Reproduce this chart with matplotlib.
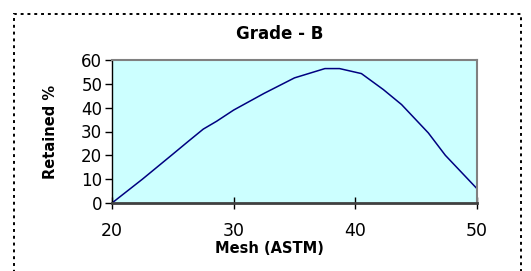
import matplotlib
matplotlib.use("Agg")
import matplotlib.pyplot as plt
from matplotlib.patches import Rectangle

# ===== data =====
mesh = [20, 22.5, 25, 26.3, 27.5, 28.6, 30, 32.5, 35, 37.5, 38.7, 40.5, 42.3, 43.8, 46, 47.4, 50]
retained = [0, 10, 20.5, 26, 31, 34.3, 39, 46, 52.5, 56.4, 56.4, 54.3, 47.6, 41.3, 29.4, 20, 6]
x_ticks = [20, 30, 40, 50]
y_ticks = [0, 10, 20, 30, 40, 50, 60]

plt.rcParams['font.family'] = ['DejaVu Sans']

fig = plt.figure(figsize=(5.31, 2.71), dpi=100)
ax = fig.add_axes([112/531, 68/271, 365/531, 143/271])
ax.set_facecolor("#CCFFFF")

ax.plot(mesh, retained, color="#000080", linewidth=1.1)

ax.set_xlim(20, 50)
ax.set_ylim(0, 60)
ax.set_xticks(x_ticks)
ax.set_yticks(y_ticks)

# axes look
for side in ["top", "right"]:
    ax.spines[side].set_color("#808080")
    ax.spines[side].set_linewidth(1.5)
ax.spines["left"].set_color("black")
ax.spines["left"].set_linewidth(1)
ax.spines["bottom"].set_color("#404040")
ax.spines["bottom"].set_linewidth(2)

ax.tick_params(axis="x", direction="inout", length=9, width=1, pad=9, labelsize=12.5, colors="black")
ax.tick_params(axis="y", direction="out", length=5, width=1, pad=2, labelsize=12, colors="black")

# title / labels sit a bit left of the plot centre in the original
ax.set_title("Grade - B", fontsize=12, fontweight="bold", pad=15, x=0.46)
ax.set_xlabel("Mesh (ASTM)", fontsize=10.5, fontweight="bold", labelpad=1)
ax.xaxis.label.set_x(0.43)
ax.set_ylabel("Retained %", fontsize=10.5, fontweight="bold", labelpad=17)

# dotted chart border
border = Rectangle((14/531, -0.1), 507/531, 1 - 14/271 + 0.1, transform=fig.transFigure,
                   fill=False, edgecolor="black", linewidth=1.4, linestyle=(0, (1.5, 2)),
                   clip_on=False)
fig.patches.append(border)

plt.savefig("out.png", dpi=100)
